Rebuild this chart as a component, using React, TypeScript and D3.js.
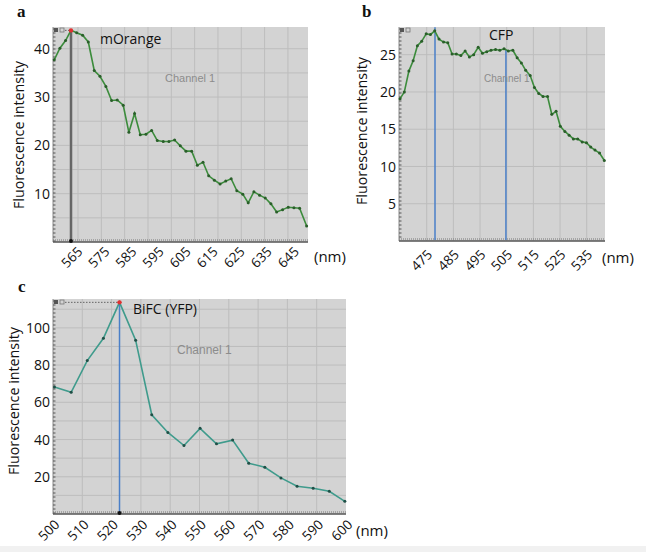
import React from 'react';
import * as d3 from 'd3';

// panel a: mOrange
const aWavelength = [558.8, 560.9, 563.0, 565.0, 567.1, 569.3, 571.4, 573.6, 575.7, 577.9, 580.0, 582.1, 584.3, 586.4, 588.5, 590.6, 592.7, 594.8, 596.9, 599.1, 601.2, 603.3, 605.4, 607.5, 609.6, 611.7, 613.8, 615.9, 618.0, 620.1, 622.2, 624.2, 626.3, 628.5, 630.5, 632.6, 634.7, 636.8, 638.9, 641.0, 643.2, 645.3, 647.4, 649.5, 652.1];
const aIntensity = [37.7, 40.1, 41.7, 43.8, 43.3, 42.8, 41.4, 35.5, 34.3, 32.2, 29.3, 29.4, 28.3, 22.7, 26.6, 22.2, 22.3, 23.1, 21.0, 20.8, 20.8, 21.1, 19.9, 18.8, 18.8, 15.9, 16.5, 13.7, 12.8, 12.0, 12.6, 13.1, 10.6, 9.9, 8.1, 10.4, 9.7, 9.1, 7.9, 6.2, 6.7, 7.2, 7.1, 7.0, 3.3];
const aXTicks = [565, 575, 585, 595, 605, 615, 625, 635, 645];
const aYTicks = [10, 20, 30, 40];

// panel b: CFP
const bWavelength = [465.0, 466.6, 468.3, 469.9, 471.5, 473.1, 474.8, 476.4, 478.0, 479.6, 481.3, 482.9, 484.5, 486.1, 487.8, 489.4, 491.0, 492.6, 494.3, 495.9, 497.5, 499.1, 500.8, 502.4, 504.0, 505.6, 507.3, 508.9, 510.5, 512.1, 513.8, 515.4, 517.0, 518.6, 520.3, 521.9, 523.5, 525.1, 526.8, 528.4, 530.0, 531.6, 533.3, 534.9, 536.5, 538.1, 539.8, 541.6];
const bIntensity = [19.1, 20.0, 22.8, 24.2, 26.2, 26.8, 27.8, 27.7, 28.2, 27.1, 26.7, 26.6, 25.1, 25.1, 24.9, 25.5, 24.7, 25.0, 26.0, 25.2, 25.4, 25.6, 25.7, 25.6, 25.8, 25.5, 25.6, 24.6, 23.9, 22.9, 22.2, 20.6, 19.8, 19.4, 19.4, 17.0, 17.4, 15.4, 14.7, 14.2, 13.7, 13.7, 13.3, 13.2, 12.6, 12.2, 11.8, 10.8];
const bXTicks = [475, 485, 495, 505, 515, 525, 535];
const bYTicks = [5, 10, 15, 20, 25];
const bMarkers = [478.1, 504.7];

// panel c: BiFC (YFP)
const cWavelength = [500.5, 506.2, 511.7, 517.2, 522.7, 528.2, 533.7, 539.2, 544.7, 550.2, 555.8, 561.3, 566.8, 572.3, 577.8, 583.3, 588.8, 594.3, 599.6];
const cIntensity = [68.2, 65.4, 82.4, 94.4, 113.7, 93.4, 53.3, 43.8, 36.8, 46.0, 37.7, 39.7, 27.3, 25.1, 19.4, 14.9, 13.8, 12.2, 6.8];
const cXTicks = [500, 510, 520, 530, 540, 550, 560, 570, 580, 590, 600];
const cYTicks = [20, 40, 60, 80, 100];

const FONT = "'Open Sans', 'Noto Sans', sans-serif";

type PanelProps = {
  wl: number[];
  val: number[];
  box: [number, number, number, number];
  xDomain: [number, number];
  yDomain: [number, number];
  xTicks: number[];
  yTicks: number[];
  hGrid: number[];
  vGrid: number[];
  line: string;
  dot: string;
  title: string;
  titlePos: [number, number];
  channelPos: [number, number];
  channelSize: number;
  letter: string;
  letterPos: [number, number];
  yTitlePos: [number, number];
  nmPos: [number, number];
  tickOffset: [number, number];
  peak?: number;
  darkMarker?: boolean;
  blueMarkers?: { at: number; from: number }[];
};

const Panel = (p: PanelProps) => {
  const [x0, x1, y0, y1] = p.box;
  const x = d3.scaleLinear().domain(p.xDomain).range([x0, x1]);
  const y = d3.scaleLinear().domain(p.yDomain).range([y1, y0]);
  const pts = p.wl.map((w, i) => [w, p.val[i]] as [number, number]);
  const line = d3.line<[number, number]>().x(d => x(d[0])).y(d => y(d[1]));
  const peakIdx = p.peak !== undefined ? p.wl.indexOf(p.peak) : -1;
  const minorTicks = d3.range(y0 + 2, y1, 4);

  return (
    <g>
      <rect x={x0} y={y0} width={x1 - x0} height={y1 - y0} fill="#d3d3d3" />
      {p.hGrid.map(v => (
        <line key={'h' + v} x1={x0} x2={x1} y1={y(v)} y2={y(v)} stroke="#bdbdbd" strokeWidth={1} />
      ))}
      {p.vGrid.map(v => (
        <line key={'v' + v} x1={x(v)} x2={x(v)} y1={y0} y2={y1} stroke="#bdbdbd" strokeWidth={1} />
      ))}
      {/* left edge with minor ticks */}
      <line x1={x0} x2={x0} y1={y0} y2={y1} stroke="#8a8a8a" strokeWidth={1} />
      {minorTicks.map(t => (
        <line key={'m' + t} x1={x0} x2={x0 + 2.5} y1={t} y2={t} stroke="#555" strokeWidth={1} />
      ))}
      {/* bottom edge */}
      <line x1={x0} x2={x1} y1={y1 - 2} y2={y1 - 2} stroke="#777" strokeWidth={1} strokeDasharray="1 1" />
      <line x1={x0} x2={x1} y1={y1} y2={y1} stroke="#555" strokeWidth={1.5} />
      {/* top-left corner icon */}
      <rect x={x0 + 1} y={y0 + 1} width={4} height={4} fill="#555" />
      <rect x={x0 + 7} y={y0 + 1} width={4} height={4} fill="none" stroke="#777" strokeWidth={0.8} />

      {p.blueMarkers?.map(m => (
        <line key={'b' + m.at} x1={x(m.at)} x2={x(m.at)} y1={y(m.from)} y2={y1 - 1} stroke="#4a7fc8" strokeWidth={1.5} />
      ))}
      {peakIdx >= 0 && (
        <g>
          <line x1={x0 + 12} x2={x(p.peak!)} y1={y(p.val[peakIdx])} y2={y(p.val[peakIdx])}
            stroke="#666" strokeWidth={1} strokeDasharray="1.5 1.5" />
          {p.darkMarker && (
            <g>
              <line x1={x(p.peak!)} x2={x(p.peak!)} y1={y(p.val[peakIdx])} y2={y1}
                stroke="#9a9a9a" strokeWidth={3} />
              <line x1={x(p.peak!)} x2={x(p.peak!)} y1={y(p.val[peakIdx])} y2={y1}
                stroke="#444" strokeWidth={1.2} />
            </g>
          )}
          <circle cx={x(p.peak!)} cy={y1 - 1} r={2} fill="#111" />
        </g>
      )}

      <path d={line(pts) ?? ''} fill="none" stroke={p.line} strokeWidth={1.6} />
      {pts.map((d, i) => (
        <circle key={i} cx={x(d[0])} cy={y(d[1])} r={1.5} fill={p.dot} />
      ))}
      {peakIdx >= 0 && (
        <circle cx={x(p.peak!)} cy={y(p.val[peakIdx])} r={2.2} fill="#e03030" />
      )}

      {/* y ticks */}
      {p.yTicks.map(t => (
        <text key={'yt' + t} x={x0 - 3} y={y(t)} dy="0.36em" textAnchor="end"
          fontFamily={FONT} fontSize={14} fill="#111">{t}</text>
      ))}
      {/* x ticks, rotated */}
      {p.xTicks.map(t => (
        <text key={'xt' + t} transform={`translate(${x(t) + p.tickOffset[0]},${y1 + p.tickOffset[1]}) rotate(-45)`}
          dy="0.36em" textAnchor="end" fontFamily={FONT} fontSize={13.5} fill="#111">{t}</text>
      ))}
      <text x={p.nmPos[0]} y={p.nmPos[1]} fontFamily={FONT} fontSize={15} fill="#111">(nm)</text>
      <text transform={`translate(${p.yTitlePos[0]},${p.yTitlePos[1]}) rotate(-90)`} textAnchor="middle"
        dy="0.36em" fontFamily={FONT} fontSize={14.5} fill="#111" textLength={148} lengthAdjust="spacingAndGlyphs">
        Fluorescence intensity
      </text>
      <text x={p.titlePos[0]} y={p.titlePos[1]} fontFamily={FONT} fontSize={14} fill="#111">{p.title}</text>
      <text x={p.channelPos[0]} y={p.channelPos[1]} fontFamily="'Liberation Sans', Arial, sans-serif"
        fontSize={p.channelSize} fill="#8c8c8c">Channel 1</text>
      <text x={p.letterPos[0]} y={p.letterPos[1]} fontFamily="'Liberation Serif', 'DejaVu Serif', serif"
        fontWeight="bold" fontSize={17} fill="#111">{p.letter}</text>
    </g>
  );
};

export default function App() {
  return (
    <svg width={646} height={552} style={{ position: 'absolute', left: 0, top: 0 }}>
      <rect x={0} y={0} width={646} height={552} fill="#fff" />
      <rect x={0} y={546} width={646} height={6} fill="#f1f1f1" />
      <Panel
        wl={aWavelength} val={aIntensity}
        box={[53, 308, 27, 242]}
        xDomain={[558.35, 652.6]} yDomain={[0, 44.5]}
        xTicks={aXTicks} yTicks={aYTicks}
        hGrid={d3.range(5, 44, 5)} vGrid={d3.range(567.6, 650, 8.62)}
        line="#3c8c3c" dot="#2a5e2a"
        title="mOrange" titlePos={[100, 44]}
        channelPos={[165, 82]} channelSize={11}
        letter="a" letterPos={[17, 17]}
        yTitlePos={[19, 135]} nmPos={[314, 262]}
        tickOffset={[9, 7]}
        peak={565.0} darkMarker
      />
      <Panel
        wl={bWavelength} val={bIntensity}
        box={[399, 605, 27, 241]}
        xDomain={[464.6, 541.85]} yDomain={[0, 28.72]}
        xTicks={bXTicks} yTicks={bYTicks}
        hGrid={d3.range(5, 28, 5)} vGrid={d3.range(475, 541, 10)}
        line="#3c8c3c" dot="#2a5e2a"
        title="CFP" titlePos={[489, 40]}
        channelPos={[484, 82]} channelSize={10}
        letter="b" letterPos={[362, 17]}
        yTitlePos={[362, 131]} nmPos={[602, 263]}
        tickOffset={[3, 11]}
        blueMarkers={[{ at: bMarkers[0], from: 28.7 }, { at: bMarkers[1], from: 25.7 }]}
      />
      <Panel
        wl={cWavelength} val={cIntensity}
        box={[53, 346, 299, 514]}
        xDomain={[500, 600]} yDomain={[0, 115.5]}
        xTicks={cXTicks} yTicks={cYTicks}
        hGrid={d3.range(10, 115, 10)} vGrid={d3.range(510, 600, 10)}
        line="#3f9b8c" dot="#1f4f46"
        title="BiFC (YFP)" titlePos={[133, 314]}
        channelPos={[177, 354]} channelSize={12}
        letter="c" letterPos={[18, 292]}
        yTitlePos={[14, 401]} nmPos={[356, 536]}
        tickOffset={[4, 8]}
        peak={522.7}
        blueMarkers={[{ at: 522.7, from: 113.7 }]}
      />
    </svg>
  );
}
